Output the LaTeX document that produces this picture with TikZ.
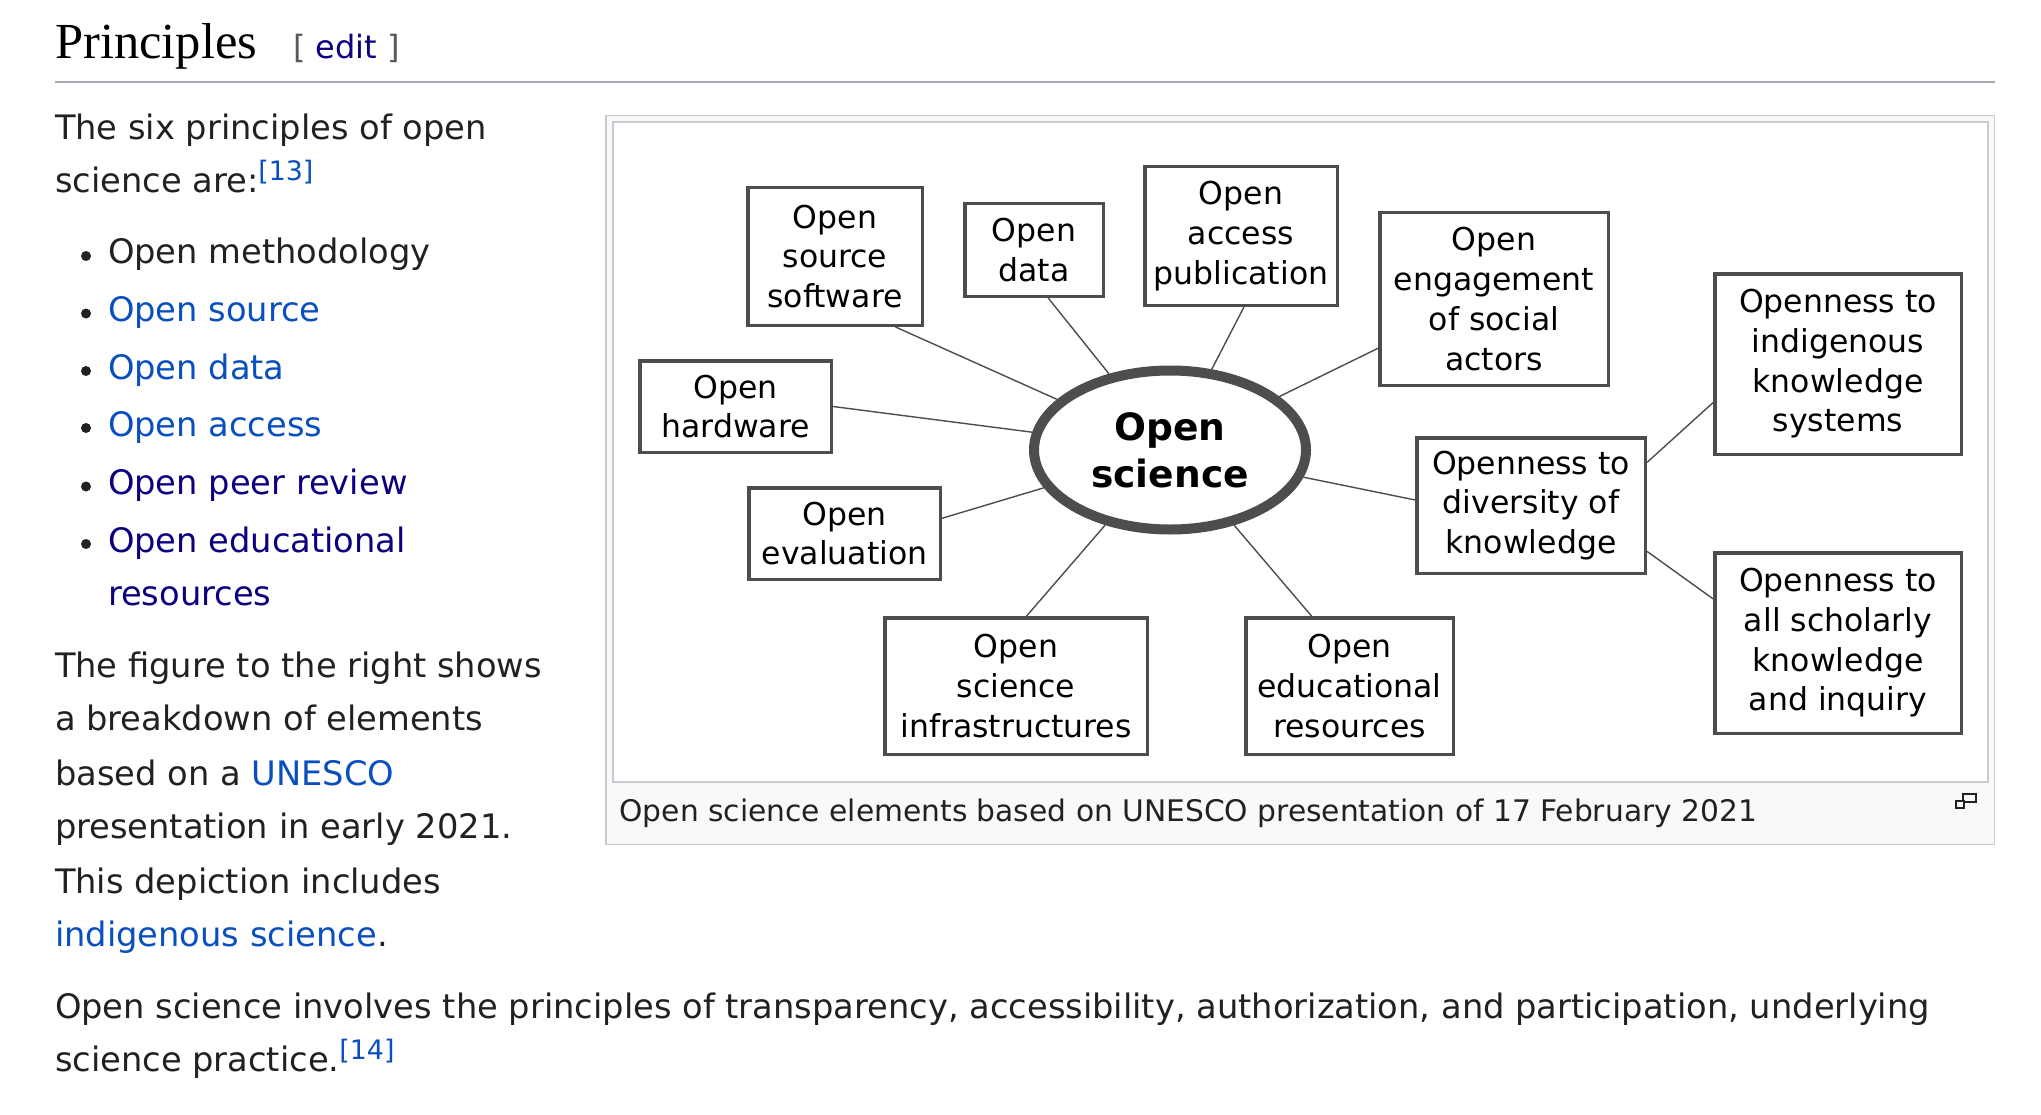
\documentclass[tikz,border=0pt]{standalone}
\usepackage{fontspec}
\setmainfont{DejaVu Sans}
\newfontfamily\headfont{Liberation Serif}
\usetikzlibrary{shapes.geometric,calc}
\definecolor{txt}{HTML}{202122}
\definecolor{link}{HTML}{0A4FBF}
\definecolor{visited}{HTML}{0B0080}
\definecolor{framec}{HTML}{C8CCD1}
\definecolor{capbg}{HTML}{F8F9FA}
\definecolor{rulec}{HTML}{A2A9B1}
\definecolor{brack}{HTML}{54595D}
\definecolor{ink}{HTML}{4D4D4D}
\begin{document}
\begin{tikzpicture}[x=1pt,y=-1pt,
  body/.style={anchor=base west, inner sep=0, outer sep=0, text=txt, font=\fontsize{33.7}{54}\selectfont},
  box/.style={draw=ink, line width=3.5pt, fill=white, align=center, inner sep=0, text=black, font=\fontsize{31.5}{39.7}\selectfont},
  hub/.style={ellipse, draw=ink, line width=10pt, fill=white, align=center, inner sep=0, text=black, font=\bfseries\fontsize{37.6}{47}\selectfont},
  conn/.style={draw=ink, line width=1.4pt},
  bul/.style={fill=txt}
]
\fill[white] (0,0) rectangle (2041,1115);
\useasboundingbox (0,0) rectangle (2041,1115);

% heading
\node[anchor=base west, inner sep=0, text=black, font=\headfont\fontsize{50.5}{60}\selectfont] (head) at (55,58.6) {Principles};
\node[body, font=\fontsize{32}{40}\selectfont] (edit) at (293,58.6) {\textcolor{brack}{[} \textcolor{visited}{edit} \textcolor{brack}{]}};
\draw[rulec, line width=1.5pt] (55,82) -- (1995,82);

% left column
\node[body] (p1a) at (55,140) {The six principles of open};
\node[body] (p1b) at (55,193) {science are:\textcolor{link}{\raisebox{12pt}{\fontsize{26.8}{30}\selectfont[13]}}};

\fill[bul] (86,256) circle (5);
\node[body] (l1) at (108,264) {Open methodology};
\fill[bul] (86,313.5) circle (5);
\node[body, text=link] (l2) at (108,321.5) {Open source};
\fill[bul] (86,371) circle (5);
\node[body, text=link] (l3) at (108,379) {Open data};
\fill[bul] (86,428) circle (5);
\node[body, text=link] (l4) at (108,436) {Open access};
\fill[bul] (86,486.5) circle (5);
\node[body, text=visited] (l5) at (108,494.5) {Open peer review};
\fill[bul] (86,544) circle (5);
\node[body, text=visited] (l6a) at (108,552) {Open educational};
\node[body, text=visited] (l6b) at (108,605) {resources};

\node[body] (p2a) at (55,677) {The figure to the right shows};
\node[body] (p2b) at (55,730) {a breakdown of elements};
\node[body] (p2c) at (55,785) {based on a \textcolor{link}{UNESCO}};
\node[body] (p2d) at (55,838) {presentation in early 2021.};
\node[body] (p2e) at (55,893) {This depiction includes};
\node[body] (p2f) at (55,946) {\textcolor{link}{indigenous science}.};

\node[body] (p3a) at (55,1018) {Open science involves the principles of transparency, accessibility, authorization, and participation, underlying};
\node[body] (p3b) at (55,1071) {science practice.\textcolor{link}{\raisebox{12pt}{\fontsize{26.8}{30}\selectfont[14]}}};

% figure frame
\draw[framec, fill=capbg, line width=1.5pt] (605.75,115.75) rectangle (1994.25,844.25);
\draw[framec, fill=white, line width=1.5pt] (613,122) rectangle (1988,782);
\node[body, font=\fontsize{29.7}{36}\selectfont] (cap) at (619.6,821) {Open science elements based on UNESCO presentation of 17 February 2021};
\draw[txt, line width=1.1pt, fill=capbg] (1963,794) rectangle (1976,802);
\draw[txt, line width=1.1pt, fill=capbg] (1956,801) rectangle (1964,808);

% diagram
\node[hub, minimum width=272, minimum height=159] (os) at (1170,450) {Open\\science};

\node[box, minimum width=174.5, minimum height=137.5] (oss) at (835,256.5) {Open\\source\\software};
\node[box, minimum width=138.5, minimum height=92.5] (data) at (1034,250) {Open\\data};
\node[box, minimum width=192.5, minimum height=138.5] (acc) at (1241,236) {Open\\access\\publication};
\node[box, minimum width=228.5, minimum height=172.5] (eng) at (1494,299) {Open\\engagement\\of social\\actors};
\node[box, minimum width=246.5, minimum height=180.5] (ind) at (1838,364) {Openness to\\indigenous\\knowledge\\systems};
\node[box, minimum width=191.5, minimum height=91.5] (hw) at (735.5,406.5) {Open\\hardware};
\node[box, minimum width=191.5, minimum height=91.5] (ev) at (844.5,533.5) {Open\\evaluation};
\node[box, minimum width=228.5, minimum height=135.5] (div) at (1531,505.5) {Openness to\\diversity of\\knowledge};
\node[box, minimum width=246.5, minimum height=180.5] (sch) at (1838,643) {Openness to\\all scholarly\\knowledge\\and inquiry};
\node[box, minimum width=262.5, minimum height=136.5] (inf) at (1016,686) {Open\\science\\infrastructures};
\node[box, minimum width=207.5, minimum height=136.5] (edu) at (1349.5,686) {Open\\educational\\resources};

\draw[conn] ($(oss.south west)!0.84!(oss.south east)$) -- (os);
\draw[conn] ($(data.south west)!0.6!(data.south east)$) -- (os);
\draw[conn] ($(acc.south west)!0.515!(acc.south east)$) -- (os);
\draw[conn] ($(eng.north west)!0.78!(eng.south west)$) -- (os);
\draw[conn] (hw.east) -- (os);
\draw[conn] ($(ev.north east)!0.34!(ev.south east)$) -- (os);
\draw[conn] ($(inf.north west)!0.54!(inf.north east)$) -- (os);
\draw[conn] ($(edu.north west)!0.32!(edu.north east)$) -- (os);
\draw[conn] ($(div.north west)!0.46!(div.south west)$) -- (os);
\draw[conn] ($(div.north east)!0.19!(div.south east)$) -- ($(ind.north west)!0.71!(ind.south west)$);
\draw[conn] ($(div.north east)!0.83!(div.south east)$) -- ($(sch.north west)!0.26!(sch.south west)$);
\end{tikzpicture}
\end{document}
